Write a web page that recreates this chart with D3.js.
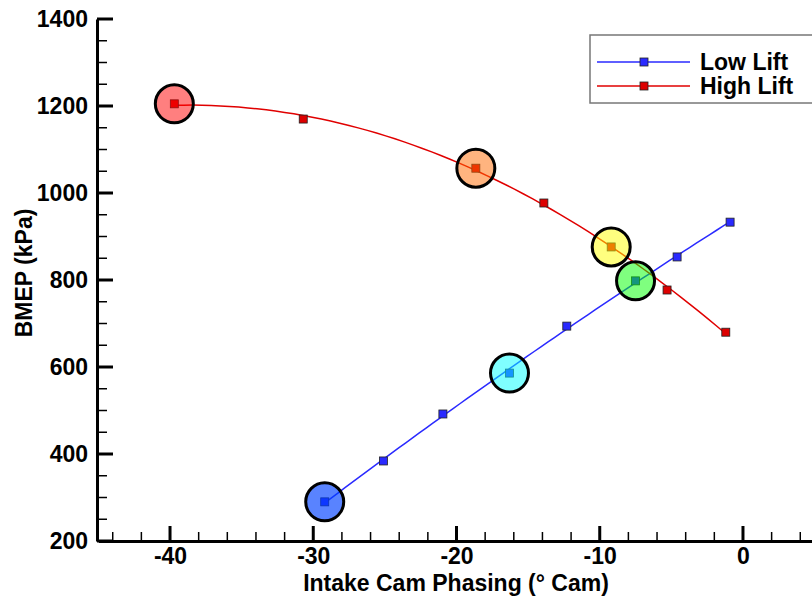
<!DOCTYPE html>
<html>
<head>
<meta charset="utf-8">
<script src="https://cdn.jsdelivr.net/npm/d3@7"></script>
<style>
  body { margin: 0; background: #fff; }
  svg { display: block; font-family: "Liberation Sans", Arial, sans-serif; font-weight: bold; }
</style>
</head>
<body>
<svg width="812" height="597"></svg>
<script>
//data
const lowPhase  = [-29.2, -25.1, -20.95, -16.3, -12.3, -7.5, -4.6, -0.9];
const lowBmep   = [290, 384, 492, 586, 694, 798, 853, 933];
const highPhase = [-39.7, -30.7, -18.65, -13.9, -9.2, -5.3, -1.2];
const highBmep  = [1205, 1170, 1057, 977, 876, 777, 680];

//highlighted points: [series, index, colour, opacity]
const highlights = [
  ['high', 0, '#ff0000', 0.5],
  ['high', 2, '#ff6a00', 0.5],
  ['high', 4, '#ffff00', 0.5],
  ['low', 5, '#00ff00', 0.5],
  ['low', 3, '#00ffff', 0.5],
  ['low', 0, '#0040ff', 0.65]
];

const xMajor = [-40, -30, -20, -10, 0];
const yMajor = [200, 400, 600, 800, 1000, 1200, 1400];

//config
const svg = d3.select('svg');
const mLeft = 97, mBottom = 541, mTop = 19;
const fs = 23;

const x = d3.scaleLinear().domain([-45, 5]).range([98.4, 814.6]);
const y = d3.scaleLinear().domain([200, 1400]).range([mBottom, mTop]);

const low  = lowPhase.map((p, i) => ({x: p, y: lowBmep[i]}));
const high = highPhase.map((p, i) => ({x: p, y: highBmep[i]}));

//least squares polynomial fit, the curves are fits and not joined points
const polyFit = (pts, deg) => {
  const n = deg + 1;
  const A = d3.range(n).map(() => new Array(n + 1).fill(0));
  pts.forEach(p => {
    for (let i = 0; i < n; i++) {
      for (let j = 0; j < n; j++) A[i][j] += Math.pow(p.x, i + j);
      A[i][n] += p.y * Math.pow(p.x, i);
    }
  });
  for (let i = 0; i < n; i++) {
    let m = i;
    for (let k = i + 1; k < n; k++) if (Math.abs(A[k][i]) > Math.abs(A[m][i])) m = k;
    [A[i], A[m]] = [A[m], A[i]];
    for (let k = i + 1; k < n; k++) {
      const f = A[k][i] / A[i][i];
      for (let j = i; j <= n; j++) A[k][j] -= f * A[i][j];
    }
  }
  const c = new Array(n).fill(0);
  for (let i = n - 1; i >= 0; i--) {
    let s = A[i][n];
    for (let j = i + 1; j < n; j++) s -= A[i][j] * c[j];
    c[i] = s / A[i][i];
  }
  return xv => c.reduce((s, ci, i) => s + ci * Math.pow(xv, i), 0);
};

const fitCurve = (pts, deg) => {
  const f = polyFit(pts, deg);
  const [a, b] = d3.extent(pts, d => d.x);
  return d3.range(0, 61).map(i => {
    const xv = a + (b - a) * i / 60;
    return {x: xv, y: f(xv)};
  });
};

//axes: labels and domain lines from d3 axes
const xMinor = d3.range(-44, 5, 2).filter(v => v % 10 != 0);
const yMinor = d3.range(250, 1400, 50).filter(v => v % 200 != 0);

svg.append('g').attr('transform', `translate(0,${mBottom})`)
  .call(d3.axisBottom(x).tickValues(xMajor).tickSize(0).tickFormat(d => d))
  .call(g => g.select('.domain').attr('stroke', '#000').attr('stroke-width', 3))
  .call(g => g.selectAll('text').attr('font-size', fs).attr('fill', '#000').attr('dy', 0).attr('y', 23));

svg.append('g').attr('transform', `translate(${mLeft},0)`)
  .call(d3.axisLeft(y).tickValues(yMajor).tickSize(0).tickFormat(d => d))
  .call(g => g.select('.domain').attr('stroke', '#000').attr('stroke-width', 3))
  .call(g => g.selectAll('text').attr('font-size', fs).attr('fill', '#000').attr('x', -9));

//inward tick marks
const ticks = svg.append('g').attr('stroke', '#000');
ticks.selectAll('.xt').data(xMajor.map(v => [v, 15, 3]).concat(xMinor.map(v => [v, 9, 1.5]))).enter()
  .append('line')
  .attr('x1', d => x(d[0])).attr('x2', d => x(d[0]))
  .attr('y1', mBottom).attr('y2', d => mBottom - d[1])
  .attr('stroke-width', d => d[2]);
ticks.selectAll('.yt').data(yMajor.map(v => [v, 16, 3]).concat(yMinor.map(v => [v, 10, 1.5]))).enter()
  .append('line')
  .attr('y1', d => y(d[0])).attr('y2', d => y(d[0]))
  .attr('x1', mLeft).attr('x2', d => mLeft + d[1])
  .attr('stroke-width', d => d[2]);

//axis titles
svg.append('text')
  .attr('x', 456).attr('y', 591)
  .attr('text-anchor', 'middle')
  .attr('font-size', fs)
  .text('Intake Cam Phasing (° Cam)');

svg.append('text')
  .attr('transform', 'translate(32,273) rotate(-90)')
  .attr('text-anchor', 'middle')
  .attr('font-size', fs)
  .text('BMEP (kPa)');

//fitted lines
const line = d3.line().x(d => x(d.x)).y(d => y(d.y));

svg.append('path').datum(fitCurve(low, 2))
  .attr('d', line).attr('fill', 'none')
  .attr('stroke', '#2a2aff').attr('stroke-width', 1.5);
svg.append('path').datum(fitCurve(high, 2))
  .attr('d', line).attr('fill', 'none')
  .attr('stroke', '#e00000').attr('stroke-width', 1.5);

//markers
const ms = 8;
svg.append('g').selectAll('rect').data(low).enter()
  .append('rect')
  .attr('x', d => x(d.x) - ms / 2).attr('y', d => y(d.y) - ms / 2)
  .attr('width', ms).attr('height', ms)
  .attr('fill', '#2a2aff').attr('stroke', '#222').attr('stroke-width', 0.8);
svg.append('g').selectAll('rect').data(high).enter()
  .append('rect')
  .attr('x', d => x(d.x) - ms / 2).attr('y', d => y(d.y) - ms / 2)
  .attr('width', ms).attr('height', ms)
  .attr('fill', '#dd0000').attr('stroke', '#222').attr('stroke-width', 0.8);

//highlight circles
svg.append('g').selectAll('circle').data(highlights).enter()
  .append('circle')
  .attr('cx', d => x((d[0] == 'low' ? low : high)[d[1]].x))
  .attr('cy', d => y((d[0] == 'low' ? low : high)[d[1]].y))
  .attr('r', 19)
  .attr('fill', d => d[2]).attr('fill-opacity', d => d[3])
  .attr('stroke', '#000').attr('stroke-width', 3);

//legend
const legend = svg.append('g');
legend.append('rect')
  .attr('x', 590).attr('y', 35).attr('width', 240).attr('height', 68)
  .attr('fill', '#fff').attr('stroke', '#777').attr('stroke-width', 1.5);

const legendItems = [['Low Lift', '#2a2aff', '#2a2aff', 62], ['High Lift', '#e00000', '#dd0000', 86]];
legendItems.forEach(([name, lc, mc, ly]) => {
  legend.append('line')
    .attr('x1', 597).attr('x2', 690).attr('y1', ly).attr('y2', ly)
    .attr('stroke', lc).attr('stroke-width', 1.5);
  legend.append('rect')
    .attr('x', 644 - ms / 2).attr('y', ly - ms / 2).attr('width', ms).attr('height', ms)
    .attr('fill', mc).attr('stroke', '#222').attr('stroke-width', 0.8);
  legend.append('text')
    .attr('x', 700).attr('y', ly + 8)
    .attr('font-size', fs)
    .text(name);
});
</script>
</body>
</html>
